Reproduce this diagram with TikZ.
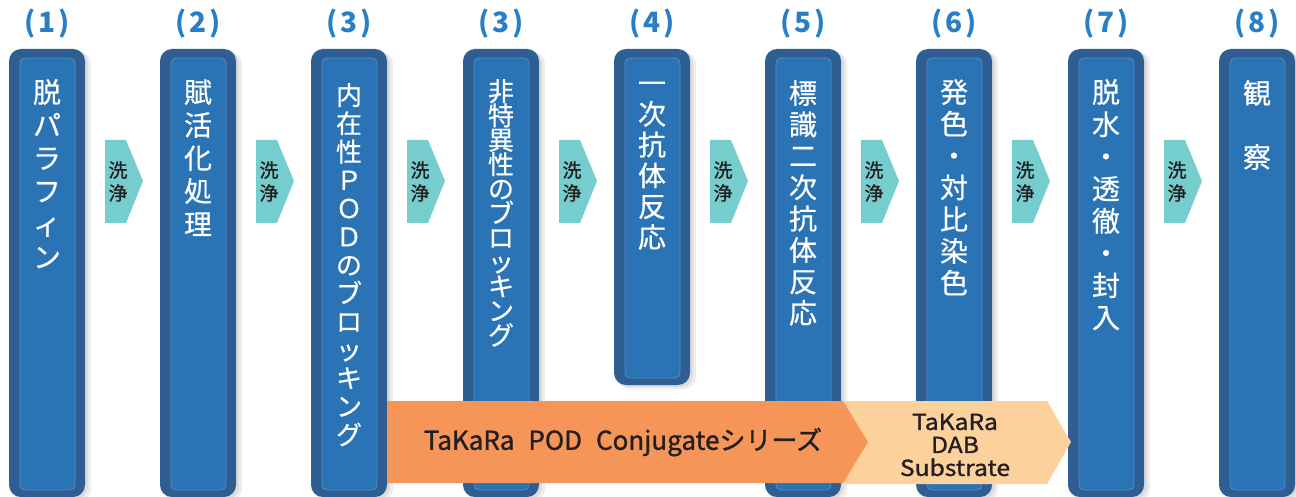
\documentclass[tikz,border=0pt]{standalone}
\usepackage{fontspec}
\setmainfont{Noto Sans CJK JP}
\newfontfamily\medfont{Noto Sans CJK JP}[FakeBold=1.2]
\newfontfamily\lightmed{Noto Sans CJK JP}[FakeBold=0.5]
\definecolor{barout}{HTML}{2F5E93}
\definecolor{barin}{HTML}{2A73B5}
\definecolor{barhi}{HTML}{4F8FCB}
\definecolor{wash}{HTML}{76CDCD}
\definecolor{podorange}{HTML}{F59557}
\definecolor{dabpeach}{HTML}{FDD19C}
\definecolor{lblblue}{HTML}{2A7EC3}
\definecolor{txtdark}{HTML}{231F20}
\newcommand\stepbar[3]{% name, left x, bottom y
  \fill[barshadow] (#2+4,52) rectangle (#2+82,#3+4);
  \fill[barshadow] (#2+2,51) rectangle (#2+79,#3+2);
  \fill[barouter] (#2,49) rectangle (#2+76,#3);
  \draw[barinner] (#2+11,58) rectangle (#2+66,#3-7);
  \coordinate (#1) at (#2+38,49);
}
\newcommand\vtext[6]{% name, x, y0, dy, size, list
  \foreach \c [count=\k from 0] in {#6} {%
    \node[bartext, font=\lightmed\fontsize{#5}{#5}\selectfont, text height=0.88*#5pt, text depth=0.12*#5pt] (#1-\k) at (#2, #3+\k*#4) {\c};}
}
\newcommand\washarrow[2]{% name, left x
  \fill[washshape] (#2,140) -- (#2+21,140) -- (#2+38,181) -- (#2+21,223) -- (#2,223) -- cycle;
  \node[washtext] (#1a) at (#2+13,170) {洗};
  \node[washtext] (#1b) at (#2+13,193) {浄};
}
\newcommand\steplab[3]{% name, center x, text
  \node[steplabel] (#1) at (#2,24) {(\hspace{3pt}#3\hspace{3pt})};
}
\begin{document}
\begin{tikzpicture}[x=1pt,y=-1pt,
  barouter/.style={fill=barout, rounded corners=12pt},
  barinner/.style={fill=barin, draw=barhi, line width=0.8pt, rounded corners=5pt},
  barshadow/.style={fill=black, opacity=0.07, rounded corners=12pt},
  washshape/.style={fill=wash},
  washtext/.style={text=txtdark, font=\medfont\fontsize{19}{19}\selectfont, inner sep=0pt},
  bartext/.style={text=white, inner sep=0pt},
  steplabel/.style={text=lblblue, font=\bfseries\fontsize{28}{28}\selectfont, inner sep=0pt},
  podtext/.style={text=txtdark, inner sep=0pt, align=center}
]
\useasboundingbox (0,0) rectangle (1296,497);
% bars
\stepbar{b1}{9}{497}
\stepbar{b2}{160}{497}
\stepbar{b3}{311}{497}
\stepbar{b3b}{463}{497}
\stepbar{b4}{614}{385}
\stepbar{b5}{765}{497}
\stepbar{b6}{916}{497}
\stepbar{b7}{1068}{497}
\stepbar{b8}{1219}{497}
% labels
\steplab{l1}{47}{1}
\steplab{l2}{198}{2}
\steplab{l3}{349}{3}
\steplab{l3b}{501}{3}
\steplab{l4}{652}{4}
\steplab{l5}{803}{5}
\steplab{l6}{954}{6}
\steplab{l7}{1106}{7}
\steplab{l8}{1257}{8}
% bar texts
\vtext{t1}{47}{92}{33}{28}{脱,パ,ラ,フ,ィ,ン}
\vtext{t2}{198}{92}{33}{28}{賦,活,化,処,理}
\vtext{t3}{349}{95}{28.3}{26}{内,在,性,Ｐ,Ｏ,Ｄ,の,ブ,ロ,ッ,キ,ン,グ}
\vtext{t3b}{501}{91}{24.4}{26}{非,特,異,性,の,ブ,ロ,ッ,キ,ン,グ}
\vtext{t4}{652}{83}{30.8}{28}{一,次,抗,体,反,応}
\vtext{t5}{803}{93}{31.4}{28}{標,識,二,次,抗,体,反,応}
\vtext{t6}{954}{92}{31.8}{28}{発,色,・,対,比,染,色}
\vtext{t7}{1106}{92}{32.2}{28}{脱,水,・,透,徹,・,封,入}
\vtext{t8}{1257}{93}{64}{28}{観,察}
% washing arrows
\washarrow{w1}{105}
\washarrow{w2}{256}
\washarrow{w3}{407}
\washarrow{w4}{559}
\washarrow{w5}{710}
\washarrow{w6}{861}
\washarrow{w7}{1012}
\washarrow{w8}{1164}
% reagent arrows
\fill[dabpeach] (843,401) -- (1047,401) -- (1071,442) -- (1047,484) -- (843,484) -- cycle;
\fill[podorange] (387,401) -- (843,401) -- (868,442) -- (843,483) -- (387,483) -- cycle;
\node[podtext, font=\medfont\fontsize{26}{26}\selectfont] (pod) at (623,442) {TaKaRa\hspace{14pt}POD\hspace{14pt}Conjugateシリーズ};
\node[podtext, font=\medfont\fontsize{22}{23}\selectfont] (dab) at (955,445) {\scalebox{1.12}[1]{TaKaRa}\\\scalebox{1.12}[1]{DAB}\\\scalebox{1.12}[1]{Substrate}};
\end{tikzpicture}
\end{document}
